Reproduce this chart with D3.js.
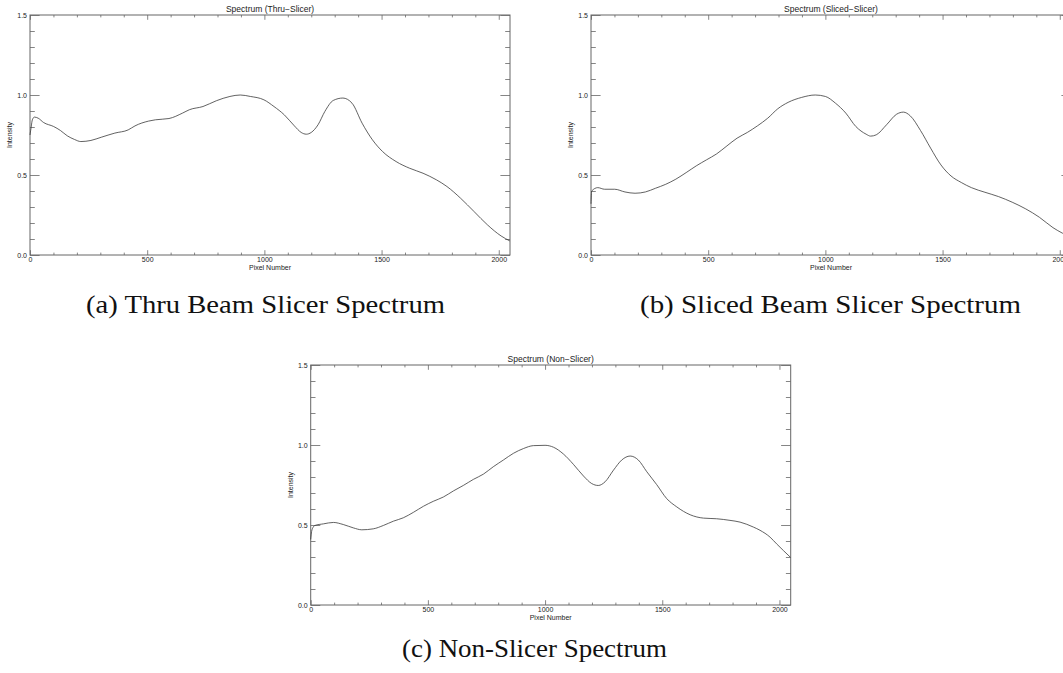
<!DOCTYPE html>
<html>
<head>
<meta charset="utf-8">
<script src="https://cdn.jsdelivr.net/npm/d3@7"></script>
<style>
  html, body { margin: 0; padding: 0; background: #fff; }
  svg { display: block; }
</style>
</head>
<body>
<svg id="chart" width="1063" height="673"></svg>
<script>
// ---------- data ----------
const panelTitles = ["Spectrum (Thru\u2212Slicer)", "Spectrum (Sliced\u2212Slicer)", "Spectrum (Non\u2212Slicer)"];
const captions = ["(a) Thru Beam Slicer Spectrum", "(b) Sliced Beam Slicer Spectrum", "(c) Non-Slicer Spectrum"];
const xLabel = "Pixel Number";
const yLabel = "Intensity";
const xTickValues = [0, 500, 1000, 1500, 2000];
const yTickValues = [0.0, 0.5, 1.0, 1.5];
const xDomain = [0, 2048];
const yDomain = [0, 1.5];

const thruSpectrum = [[0,0.75],[5,0.80],[10,0.845],[19,0.862],[35,0.855],[58,0.828],[101,0.803],[130,0.778],[159,0.745],[190,0.722],[217,0.709],[260,0.716],[304,0.736],[362,0.762],[419,0.782],[448,0.807],[506,0.837],[535,0.845],[593,0.853],[651,0.887],[680,0.908],[738,0.928],[795,0.964],[853,0.991],[897,1.0],[940,0.991],[998,0.970],[1041,0.928],[1085,0.876],[1128,0.807],[1157,0.766],[1179,0.755],[1200,0.766],[1229,0.814],[1258,0.897],[1294,0.966],[1335,0.981],[1374,0.949],[1417,0.824],[1461,0.72],[1504,0.647],[1562,0.584],[1620,0.542],[1677,0.511],[1735,0.469],[1779,0.428],[1837,0.355],[1895,0.271],[1952,0.188],[2010,0.119],[2047,0.088]];

const slicedSpectrum = [[0,0.32],[3,0.40],[29,0.421],[58,0.411],[101,0.411],[145,0.394],[188,0.386],[232,0.394],[275,0.417],[319,0.442],[362,0.474],[406,0.515],[449,0.557],[493,0.595],[536,0.632],[580,0.682],[623,0.730],[667,0.766],[710,0.807],[754,0.855],[797,0.914],[841,0.954],[899,0.985],[957,1.0],[1000,0.991],[1043,0.949],[1087,0.887],[1130,0.803],[1174,0.755],[1193,0.743],[1217,0.751],[1261,0.814],[1304,0.880],[1333,0.893],[1362,0.870],[1406,0.778],[1449,0.668],[1493,0.563],[1536,0.494],[1580,0.453],[1623,0.421],[1681,0.392],[1739,0.365],[1797,0.330],[1855,0.288],[1913,0.236],[1971,0.171],[2012,0.136],[2047,0.11]];

const nonSpectrum = [[0,0.41],[4,0.46],[10,0.485],[18,0.497],[54,0.507],[97,0.516],[139,0.503],[182,0.482],[218,0.470],[267,0.476],[310,0.497],[353,0.524],[395,0.545],[438,0.579],[481,0.617],[523,0.648],[566,0.675],[609,0.713],[651,0.747],[694,0.785],[737,0.818],[779,0.864],[822,0.906],[865,0.948],[908,0.978],[950,0.996],[1000,0.998],[1036,0.986],[1078,0.944],[1121,0.879],[1164,0.806],[1199,0.759],[1227,0.747],[1256,0.770],[1292,0.843],[1327,0.906],[1363,0.931],[1398,0.906],[1434,0.833],[1476,0.753],[1519,0.665],[1562,0.613],[1619,0.564],[1676,0.543],[1732,0.539],[1789,0.529],[1832,0.518],[1889,0.487],[1917,0.467],[1960,0.424],[1988,0.382],[2047,0.298]];

// ---------- layout ----------
const panels = [
  { data: thruSpectrum,   x0: 30,    x1: 510,   y0: 255, y1: 15,  ylabX: 12,  cap: { cx: 265.5, y: 313, w: 359 } },
  { data: slicedSpectrum, x0: 591,   x1: 1071,  y0: 255, y1: 15,  ylabX: 573, cap: { cx: 830.5, y: 313, w: 381 } },
  { data: nonSpectrum,    x0: 310.7, x1: 790.7, y0: 605, y1: 365, ylabX: 293, cap: { cx: 534.5, y: 657, w: 265 } }
];

const svg = d3.select("#chart");
const frameColor = "#666";
const lineColor = "#3a3a3a";
const sans = "'Liberation Sans', Arial, sans-serif";

panels.forEach((p, i) => {
  const x = d3.scaleLinear().domain(xDomain).range([p.x0, p.x1]);
  const y = d3.scaleLinear().domain(yDomain).range([p.y0, p.y1]);
  const g = svg.append("g");
  const w = p.x1 - p.x0, h = p.y0 - p.y1;
  const xMajorLen = 0.02 * h, yMajorLen = 0.02 * w;
  const xMinor = d3.range(100, 2048, 100).filter(v => v % 500 !== 0);
  const yMinor = d3.range(1, 15).map(v => v / 10).filter(v => Math.round(v * 10) % 5 !== 0);

  function styleAxis(sel) {
    sel.select(".domain").remove();
    sel.selectAll("line").attr("stroke", frameColor).attr("stroke-width", 0.8);
    sel.selectAll("text").attr("font-family", sans).attr("font-size", 7).attr("fill", "#222");
  }

  // bottom
  g.append("g").attr("transform", `translate(0,${p.y0})`)
    .call(d3.axisBottom(x).tickValues(xTickValues).tickSize(-xMajorLen).tickPadding(2).tickFormat(d3.format("d")))
    .call(styleAxis);
  g.append("g").attr("transform", `translate(0,${p.y0})`)
    .call(d3.axisBottom(x).tickValues(xMinor).tickSize(-xMajorLen / 2).tickFormat(""))
    .call(styleAxis);
  // top
  g.append("g").attr("transform", `translate(0,${p.y1})`)
    .call(d3.axisTop(x).tickValues(xTickValues).tickSize(-xMajorLen).tickFormat(""))
    .call(styleAxis);
  g.append("g").attr("transform", `translate(0,${p.y1})`)
    .call(d3.axisTop(x).tickValues(xMinor).tickSize(-xMajorLen / 2).tickFormat(""))
    .call(styleAxis);
  // left
  g.append("g").attr("transform", `translate(${p.x0},0)`)
    .call(d3.axisLeft(y).tickValues(yTickValues).tickSize(-yMajorLen).tickPadding(3).tickFormat(d3.format(".1f")))
    .call(styleAxis);
  g.append("g").attr("transform", `translate(${p.x0},0)`)
    .call(d3.axisLeft(y).tickValues(yMinor).tickSize(-yMajorLen / 2).tickFormat(""))
    .call(styleAxis);
  // right
  g.append("g").attr("transform", `translate(${p.x1},0)`)
    .call(d3.axisRight(y).tickValues(yTickValues).tickSize(-yMajorLen).tickFormat(""))
    .call(styleAxis);
  g.append("g").attr("transform", `translate(${p.x1},0)`)
    .call(d3.axisRight(y).tickValues(yMinor).tickSize(-yMajorLen / 2).tickFormat(""))
    .call(styleAxis);

  // frame
  g.append("rect").attr("x", p.x0).attr("y", p.y1).attr("width", w).attr("height", h)
    .attr("fill", "none").attr("stroke", frameColor).attr("stroke-width", 1);

  // curve
  const line = d3.line().x(d => x(d[0])).y(d => y(d[1])).curve(d3.curveMonotoneX);
  g.append("path").datum(p.data).attr("d", line)
    .attr("fill", "none").attr("stroke", lineColor).attr("stroke-width", 0.8);

  // title
  g.append("text").attr("x", (p.x0 + p.x1) / 2).attr("y", p.y1 - 3)
    .attr("text-anchor", "middle").attr("font-family", sans).attr("font-size", 8.5).attr("fill", "#222")
    .text(panelTitles[i]);
  // x label
  g.append("text").attr("x", (p.x0 + p.x1) / 2).attr("y", p.y0 + 15)
    .attr("text-anchor", "middle").attr("font-family", sans).attr("font-size", 7).attr("fill", "#222")
    .text(xLabel);
  // y label
  g.append("text").attr("transform", `translate(${p.ylabX},${(p.y0 + p.y1) / 2}) rotate(-90)`)
    .attr("text-anchor", "middle").attr("font-family", sans).attr("font-size", 7).attr("fill", "#222")
    .text(yLabel);
  // caption
  g.append("text").attr("x", p.cap.cx).attr("y", p.cap.y)
    .attr("text-anchor", "middle").attr("font-family", "'Liberation Serif', 'Times New Roman', serif")
    .attr("font-size", 25).attr("fill", "#111")
    .attr("textLength", p.cap.w).attr("lengthAdjust", "spacingAndGlyphs")
    .text(captions[i]);
});
</script>
</body>
</html>
